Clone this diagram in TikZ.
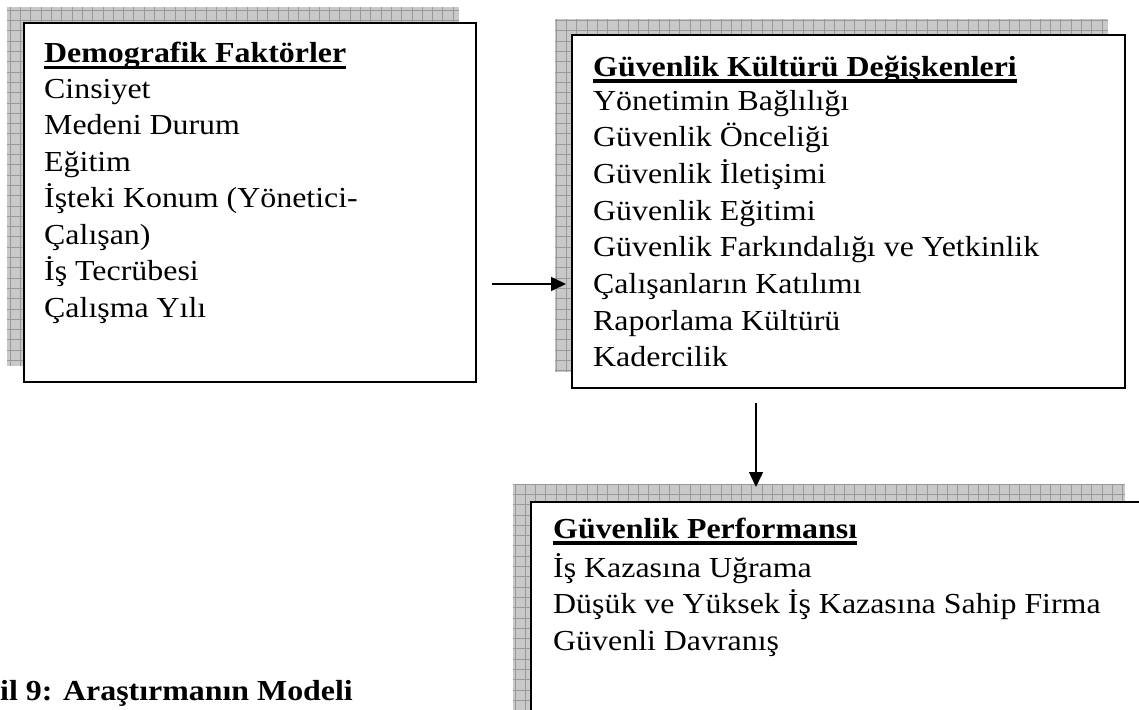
\documentclass[tikz,border=0pt]{standalone}
\usepackage{fontspec}
\setmainfont{Liberation Serif}[FakeStretch=1.10]
\usetikzlibrary{arrows.meta}

% bold heading with a heavy rule under it
\newcommand\titleul[1]{\setbox0\hbox{\bfseries #1}\rlap{\rule[-6.5pt]{\wd0}{3.5pt}}\box0}

\tikzset{
  shadowfill/.style={fill=black!21},
  shadowgrid/.style={draw=black!40, line width=0.9pt},
  card/.style={draw=black, line width=2pt, fill=white, inner sep=0pt, anchor=north west},
  lbl/.style={anchor=base west, inner sep=0pt, font=\fontsize{29}{34}\selectfont},
  figcaption/.style={anchor=base west, inner sep=0pt, font=\fontsize{29}{34}\selectfont\bfseries},
  arr/.style={line width=1.5pt, -{Triangle[length=15pt, width=14pt]}}
}

% hatched drop shadow behind a box
\newcommand\gridshadow[4]{%
  \fill[shadowfill] (#1,#2) rectangle (#3,#4);
  \begin{scope}
    \clip (#1,#2) rectangle (#3,#4);
    \draw[shadowgrid, step=10.3pt] (#1,#2) grid (#3,#4);
  \end{scope}}

\begin{document}
\begin{tikzpicture}[x=1pt, y=-1pt]
\useasboundingbox (0,0) rectangle (1139,709);
\clip (0,0) rectangle (1139,709);

% shadows
\gridshadow{7}{7}{459}{366}
\gridshadow{555}{19}{1108}{372}
\gridshadow{513}{484}{1125}{740}

% boxes
\node[card, minimum width=452pt, minimum height=359pt] (box1) at (23,22) {};
\node[card, minimum width=553pt, minimum height=353pt] (box2) at (571,34) {};
\node[card, minimum width=612pt, minimum height=260pt] (box3) at (530,501) {};

% demographic factors
\node[lbl] (d0) at (44,62.7) {\titleul{Demografik Faktörler}};
\foreach \t [count=\i] in {Cinsiyet, Medeni Durum, Eğitim, İşteki Konum (Yönetici-, Çalışan), İş Tecrübesi, Çalışma Yılı}
  \node[lbl] (d\i) at (44,{98.3+36.5*(\i-1)}) {\t};

% safety culture variables
\node[lbl] (g0) at (593,76) {\titleul{Güvenlik Kültürü Değişkenleri}};
\foreach \t [count=\i] in {Yönetimin Bağlılığı, Güvenlik Önceliği, Güvenlik İletişimi, Güvenlik Eğitimi, Güvenlik Farkındalığı ve Yetkinlik, Çalışanların Katılımı, Raporlama Kültürü, Kadercilik}
  \node[lbl] (g\i) at (593,{110+36.7*(\i-1)}) {\t};

% safety performance
\node[lbl] (p0) at (553,538) {\titleul{Güvenlik Performansı}};
\foreach \t [count=\i] in {İş Kazasına Uğrama, Düşük ve Yüksek İş Kazasına Sahip Firma, Güvenli Davranış}
  \node[lbl] (p\i) at (553,{577+36.5*(\i-1)}) {\t};

% caption
\node[figcaption] (caption) at (0,700) {il 9: Araştırmanın Modeli};

% arrows
\coordinate (a1s) at (492,284);
\coordinate (a1e) at (566,284);
\coordinate (a2s) at (756,403);
\coordinate (a2e) at (756,487);
\draw[arr] (a1s) -- (a1e);
\draw[arr] (a2s) -- (a2e);
\end{tikzpicture}
\end{document}
